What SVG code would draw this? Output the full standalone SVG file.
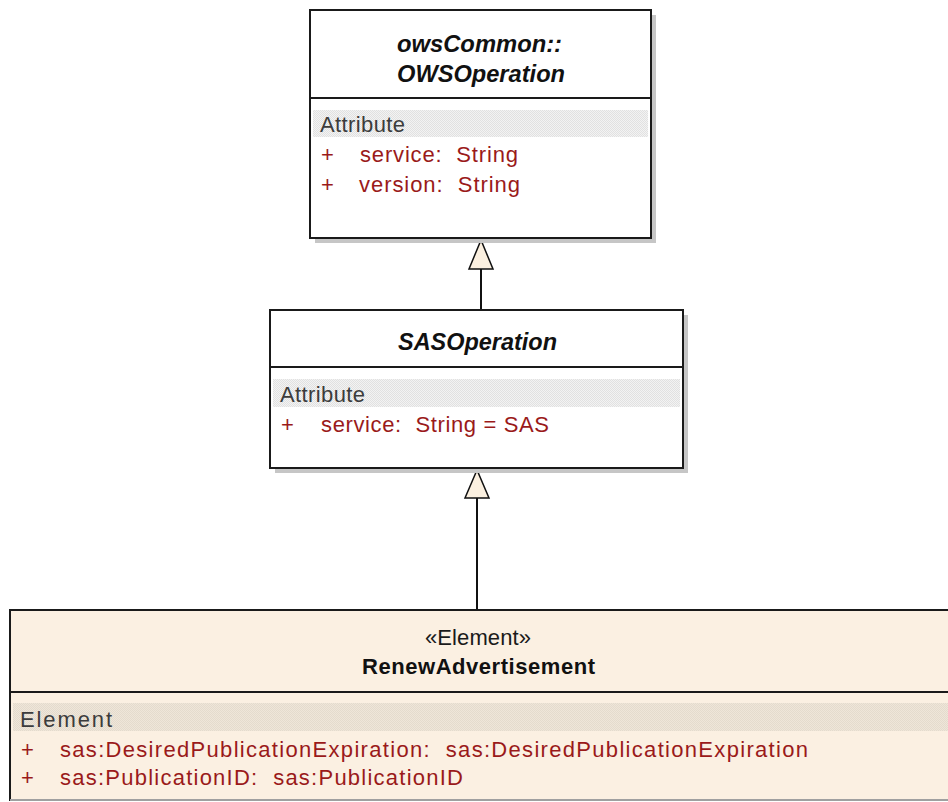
<svg xmlns="http://www.w3.org/2000/svg" width="948" height="802" viewBox="0 0 948 802">
  <style>
    .box { stroke: #1a1a1a; stroke-width: 2; }
    .plain { fill: #ffffff; }
    .element { fill: #fbf0e2; }
    .shadow { fill: #c6c6c6; }
    .rule { stroke: #1a1a1a; stroke-width: 2; fill: none; }
    .title { font-family: "Liberation Sans", Arial, sans-serif; font-size: 23px; font-weight: bold; font-style: italic; fill: #111111; }
    .stereo { font-family: "Liberation Sans", Arial, sans-serif; font-size: 22px; fill: #1a1a1a; }
    .name { font-family: "Liberation Sans", Arial, sans-serif; font-size: 22px; font-weight: bold; fill: #111111; }
    .section { font-family: "Liberation Sans", Arial, sans-serif; font-size: 22px; fill: #3c3c3c; }
    .attr { font-family: "Liberation Sans", Arial, sans-serif; font-size: 22px; fill: #9a1a1a; white-space: pre; }
    .edge { stroke: #111111; stroke-width: 2; fill: none; }
    .head { fill: #fbf0e0; stroke: #111111; stroke-width: 1.5; stroke-linejoin: miter; }
  </style>
  <defs>
    <!-- dotted compartment header bands -->
    <pattern id="dotsGray" width="2" height="2" patternUnits="userSpaceOnUse">
      <rect width="2" height="2" fill="#f3f3f3"/>
      <rect width="1" height="1" fill="#e1e1e1"/>
      <rect x="1" y="1" width="1" height="1" fill="#e1e1e1"/>
    </pattern>
    <pattern id="dotsCream" width="2" height="2" patternUnits="userSpaceOnUse">
      <rect width="2" height="2" fill="#efe6d9"/>
      <rect width="1" height="1" fill="#e4dbcd"/>
      <rect x="1" y="1" width="1" height="1" fill="#e4dbcd"/>
    </pattern>
  </defs>

  <rect width="948" height="802" fill="#ffffff"/>

  <!-- generalization connectors -->
  <g id="connectors">
    <line class="edge" x1="481" y1="269" x2="481" y2="310"/>
    <polygon class="head" points="481,240 469,269 493,269"/>
    <line class="edge" x1="477" y1="498" x2="477" y2="610"/>
    <polygon class="head" points="477,470 465,498 489,498"/>
  </g>

  <!-- abstract base operation -->
  <g id="node-owsOperation">
    <rect class="shadow" x="315" y="15" width="341" height="228"/>
    <rect class="box plain" x="310" y="10" width="341" height="228"/>
    <line class="rule" x1="310" y1="98" x2="651" y2="98"/>
    <text class="title" x="397" y="52" textLength="165" lengthAdjust="spacingAndGlyphs">owsCommon::</text>
    <text class="title" x="397" y="82" textLength="168" lengthAdjust="spacingAndGlyphs">OWSOperation</text>
    <rect x="313" y="110" width="335" height="27" fill="url(#dotsGray)"/>
    <text class="section" x="320" y="132" textLength="85" lengthAdjust="spacing">Attribute</text>
    <text class="attr" x="321" y="162">+</text>
    <text class="attr" x="360" y="162" textLength="158" lengthAdjust="spacing">service:  String</text>
    <text class="attr" x="321" y="192">+</text>
    <text class="attr" x="359" y="192" textLength="161" lengthAdjust="spacing">version:  String</text>
  </g>

  <!-- SAS operation base -->
  <g id="node-sasOperation">
    <rect class="shadow" x="275" y="315" width="413" height="158"/>
    <rect class="box plain" x="270" y="310" width="413" height="158"/>
    <line class="rule" x1="270" y1="367" x2="683" y2="367"/>
    <text class="title" x="398" y="350" textLength="159" lengthAdjust="spacingAndGlyphs">SASOperation</text>
    <rect x="273" y="379" width="407" height="28" fill="url(#dotsGray)"/>
    <text class="section" x="280" y="402" textLength="85" lengthAdjust="spacing">Attribute</text>
    <text class="attr" x="281" y="432">+</text>
    <text class="attr" x="321" y="432" textLength="228" lengthAdjust="spacing">service:  String = SAS</text>
  </g>

  <!-- RenewAdvertisement element -->
  <g id="node-renewAdvertisement">
    <rect class="box element" x="10" y="610" width="945" height="190"/>
    <line class="rule" x1="10" y1="692" x2="955" y2="692"/>
    <line x1="10" y1="800" x2="948" y2="800" stroke="#a0a0a0" stroke-width="2"/>
    <text class="stereo" x="425" y="645" textLength="106" lengthAdjust="spacing">«Element»</text>
    <text class="name" x="362" y="674" textLength="233" lengthAdjust="spacing">RenewAdvertisement</text>
    <rect x="13" y="703" width="935" height="28" fill="url(#dotsCream)"/>
    <text class="section" x="20" y="727" textLength="92" lengthAdjust="spacing">Element</text>
    <text class="attr" x="21" y="757">+</text>
    <text class="attr" x="60" y="757" textLength="748" lengthAdjust="spacing">sas:DesiredPublicationExpiration:  sas:DesiredPublicationExpiration</text>
    <text class="attr" x="21" y="785">+</text>
    <text class="attr" x="60" y="785" textLength="403" lengthAdjust="spacing">sas:PublicationID:  sas:PublicationID</text>
  </g>
</svg>
